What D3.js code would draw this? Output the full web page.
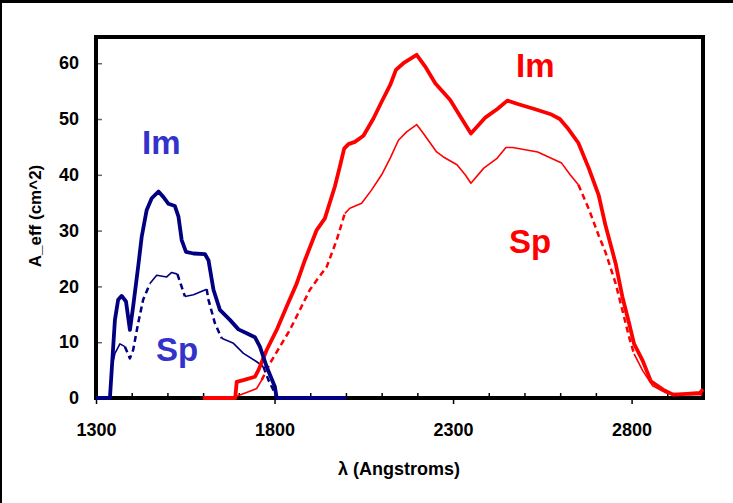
<!DOCTYPE html>
<html><head>
<meta charset="utf-8">
<script src="https://d3js.org/d3.v7.min.js"></script>
<style>
  body { margin: 0; background: #fff; }
  svg text { font-family: "Liberation Sans", Arial, sans-serif; font-weight: bold; }
</style>
</head>
<body>
<svg id="chart" width="733" height="503"></svg>
<script>
// wavelength (Angstroms) and effective area (cm^2)
const blueImL = [1300,1339,1353,1362,1372,1384,1395,1404,1418,1428,1442,1456,1475,1489,1503,1521,1531,1540,1552,1573,1605,1615,1629,1647,1675,1699,1722,1745,1759,1778,1801,1806,2000];
const blueImA = [0,0,14,17.6,18.3,17.3,12.2,16.4,23.5,28.9,33.7,35.8,37,36,34.8,34.4,32.5,28.3,26.2,25.9,25.8,24.7,19.4,15.8,14,12.3,11.6,10.9,9.2,5.6,2,0,0];

const blueSpL = [1339,1344,1353,1367,1381,1395,1404,1418,1432,1451,1470,1498,1512,1528,1540,1549,1573,1610,1615,1633,1652,1685,1713,1750,1769,1783,1797,1806];
const blueSpA = [0,5.4,8,9.7,9.2,7.1,8.6,13.4,17.6,20.5,22,21.7,22.5,22.2,19.9,18.2,18.5,19.5,17.6,13.4,10.7,9.8,8,6.5,5.6,3.2,1.4,0];

const redImL = [1600,1690,1694,1713,1745,1755,1778,1806,1834,1862,1885,1918,1941,1969,1983,1995,2007,2025,2049,2077,2100,2124,2140,2161,2198,2222,2250,2292,2320,2350,2391,2424,2452,2481,2528,2576,2599,2623,2651,2680,2708,2727,2755,2774,2793,2807,2831,2854,2888,2916,2954,2992,3000];
const redImA = [0,0,2.9,3.2,3.8,5,8.6,12.2,16.4,20.5,24.7,30.1,32.2,37.9,41.5,44.7,45.5,45.9,47,50.1,53.1,56.1,58.8,60,61.5,59.4,56.4,53.4,50.5,47.4,50.3,51.8,53.3,52.7,51.8,50.8,50,48.2,45.7,41.2,36.3,30.9,24.2,18.2,13.4,9.7,6.7,3,1.5,0.6,0.75,0.9,1.6];

const redSpL = [1694,1727,1750,1764,1787,1815,1843,1871,1899,1918,1946,1974,1997,2011,2044,2072,2100,2124,2147,2170,2198,2217,2254,2273,2311,2334,2350,2386,2424,2448,2467,2537,2604,2628,2651,2680,2708,2727,2755,2774,2793,2807,2831,2859,2897,2954,2999];
const redSpA = [0.3,1.1,1.7,3.2,6.2,9.2,12.2,15.8,19.4,21.1,23.5,28.3,33.1,34,34.9,37.3,40,43,46.2,47.7,49,47.4,44.1,43.2,41.8,40,38.5,41.2,43,44.9,44.9,44.1,42.1,40,38.2,33.9,29.1,26.1,20.6,15.8,10.9,7.9,4.9,2.2,0.9,0.6,0.6];

// wavelength ranges where the Sp curves are drawn dashed
const blueSpDash = [[1381,1451],[1528,1549],[1610,1660],[1769,1806]];
const redSpDash = [[1764,1997],[2651,2807]];

const xMajor = [1300,1800,2300,2800];
const yTicks = [0,10,20,30,40,50,60];

const svg = d3.select("#chart");
const margin = { top: 37, right: 30, bottom: 105, left: 96 };
const chartW = 733 - margin.left - margin.right;
const chartH = 503 - margin.top - margin.bottom;

// outer border (top and left edges of the slide)
svg.append("rect").attr("x", 0).attr("y", 0).attr("width", 733).attr("height", 3).attr("fill", "#000");
svg.append("rect").attr("x", 0).attr("y", 0).attr("width", 2).attr("height", 503).attr("fill", "#000");

const g = svg.append("g").attr("transform", "translate(" + margin.left + "," + margin.top + ")");

const x = d3.scaleLinear().domain([1300, 3000]).range([0, chartW]);
const y = d3.scaleLinear().domain([0, 64.7]).range([chartH, 0]);

// y axis, ticks pointing inward
const yAxis = g.append("g").call(d3.axisLeft(y).tickValues(yTicks).tickSizeInner(-6).tickSizeOuter(0).tickPadding(17));
yAxis.select(".domain").remove();
yAxis.selectAll("line").attr("stroke", "#666").attr("stroke-width", 1.5);
yAxis.selectAll("text").attr("font-size", 18).attr("fill", "#000");

// x axis, major ticks outward with labels, minor ticks inward
const xAxis = g.append("g").attr("transform", "translate(0," + chartH + ")")
  .call(d3.axisBottom(x).tickValues(xMajor).tickFormat(d3.format("d")).tickSizeInner(6).tickSizeOuter(0).tickPadding(19));
xAxis.select(".domain").remove();
xAxis.selectAll("line").attr("stroke", "#000").attr("stroke-width", 1.5);
xAxis.selectAll("text").attr("font-size", 18).attr("fill", "#000");

const minor = d3.range(1400, 3000, 100).filter(v => xMajor.indexOf(v) < 0);
const xMinor = g.append("g").attr("transform", "translate(0," + chartH + ")")
  .call(d3.axisBottom(x).tickValues(minor).tickSizeInner(-5).tickSizeOuter(0).tickFormat(""));
xMinor.select(".domain").remove();
xMinor.selectAll("line").attr("stroke", "#000").attr("stroke-width", 1.5);

// plot frame
g.append("rect").attr("width", chartW).attr("height", chartH)
  .attr("fill", "none").attr("stroke", "#000").attr("stroke-width", 4);

const line = d3.line().x(d => x(d[0])).y(d => y(d[1]));
const zip = (a, b) => a.map((v, i) => [v, b[i]]);

function drawSolid(pts, color, w) {
  g.append("path").datum(pts).attr("d", line)
    .attr("fill", "none").attr("stroke", color).attr("stroke-width", w)
    .attr("stroke-linejoin", "round");
}

// Sp curves: thin solid with dashed stretches
function drawSp(pts, ranges, color) {
  let pieces = [];
  let cur = null;
  for (let i = 0; i < pts.length - 1; i++) {
    const mid = (pts[i][0] + pts[i + 1][0]) / 2;
    const dashed = ranges.some(r => mid >= r[0] && mid <= r[1]);
    if (!cur || cur.dashed !== dashed) {
      cur = { dashed: dashed, pts: [pts[i]] };
      pieces.push(cur);
    }
    cur.pts.push(pts[i + 1]);
  }
  pieces.forEach(p => {
    g.append("path").datum(p.pts).attr("d", line)
      .attr("fill", "none").attr("stroke", color)
      .attr("stroke-width", p.dashed ? 2.5 : 1.6)
      .attr("stroke-dasharray", p.dashed ? "6,4" : null)
      .attr("stroke-linejoin", "round");
  });
}

const navy = "#000080", red = "#ff0000";
drawSp(zip(blueSpL, blueSpA), blueSpDash, navy);
drawSp(zip(redSpL, redSpA), redSpDash, red);
drawSolid(zip(redImL, redImA), red, 3.8);
drawSolid(zip(blueImL, blueImA), navy, 3.8);

// annotations
svg.append("text").attr("x", 142).attr("y", 154).attr("font-size", 33).attr("fill", "#3333cc").text("Im");
svg.append("text").attr("x", 156).attr("y", 361).attr("font-size", 33).attr("fill", "#3333cc").text("Sp");
svg.append("text").attr("x", 516).attr("y", 77).attr("font-size", 33).attr("fill", red).text("Im");
svg.append("text").attr("x", 509).attr("y", 253).attr("font-size", 33).attr("fill", red).text("Sp");

// axis titles
svg.append("text").attr("x", 399).attr("y", 475)
  .attr("text-anchor", "middle").attr("font-size", 18).text("λ (Angstroms)");
svg.append("text").attr("transform", "translate(41,216) rotate(-90)")
  .attr("text-anchor", "middle").attr("font-size", 17).text("A_eff (cm^2)");
</script>
</body>
</html>
